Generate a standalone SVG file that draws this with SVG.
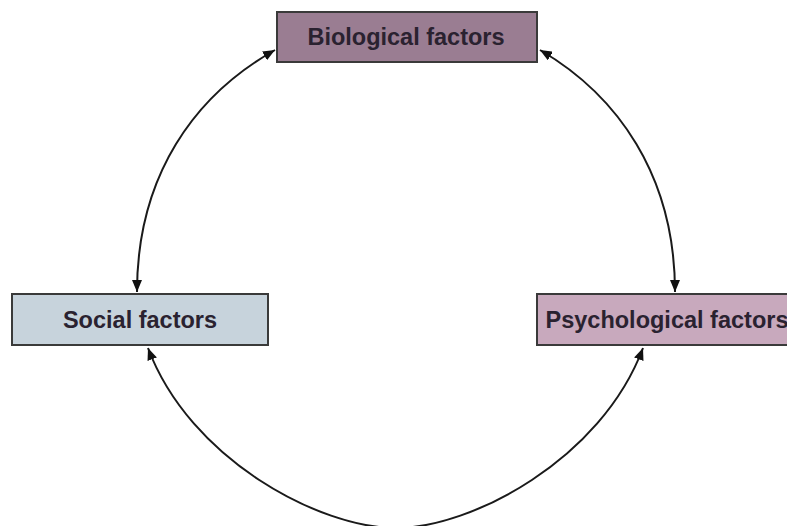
<svg xmlns="http://www.w3.org/2000/svg" width="787" height="526" viewBox="0 0 787 526">
<style>
.box{stroke:#3a3a3a;stroke-width:2}
.lbl{font-family:"Liberation Sans",Arial,sans-serif;font-size:23.5px;font-weight:bold;fill:#2a2230;text-anchor:middle}
.con{fill:none;stroke:#1a1a1a;stroke-width:2}
</style>
<defs>
<marker id="ah" viewBox="0 0 12 10" refX="12" refY="5" markerWidth="12" markerHeight="10" markerUnits="userSpaceOnUse" orient="auto-start-reverse">
<path d="M0,0 L12,5 L0,10 z" fill="#111"/>
</marker>
</defs>
<rect width="787" height="526" fill="#ffffff"/>
<g id="connectors">
<path class="con" d="M275,50 C195,95 137,175 137,292" marker-start="url(#ah)" marker-end="url(#ah)"/>
<path class="con" d="M540,50 C617,95 675,175 675,292" marker-start="url(#ah)" marker-end="url(#ah)"/>
<path class="con" d="M148,348 C190,460 320,528 396,528 C471,528 601,460 643,348" marker-start="url(#ah)" marker-end="url(#ah)"/>
</g>
<g id="biological">
<rect class="box" x="277" y="12" width="260" height="50" fill="#9a7d92"/>
<text class="lbl" x="406" y="45">Biological factors</text>
</g>
<g id="social">
<rect class="box" x="12" y="294" width="256" height="51" fill="#c7d3dc"/>
<text class="lbl" x="140" y="328">Social factors</text>
</g>
<g id="psychological">
<rect class="box" x="537" y="294" width="260" height="51" fill="#c8a9bd"/>
<text class="lbl" x="667" y="328">Psychological factors</text>
</g>
</svg>
